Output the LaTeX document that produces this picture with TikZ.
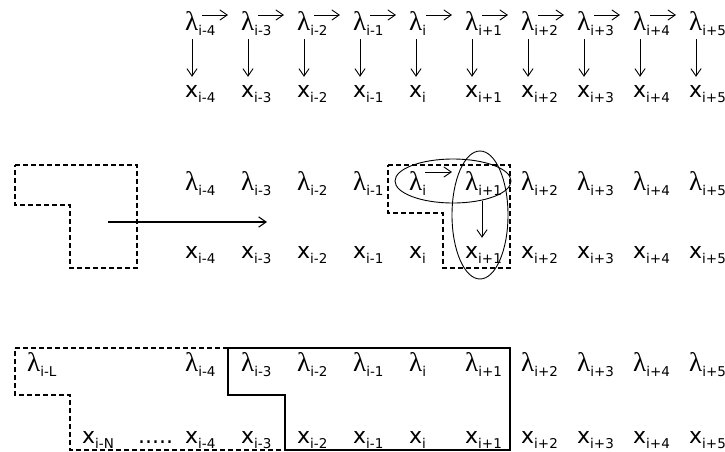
\documentclass[tikz,border=0pt]{standalone}
\usepackage{fontspec}
\setmainfont{DejaVu Sans}
\newfontfamily\lamfont{Liberation Serif}
\usetikzlibrary{arrows.meta,calc}
\newcommand\subs[1]{\raisebox{-0.42ex}{\fontsize{13.5}{13.5}\selectfont #1}}
\newcommand\lamv[1]{{\lamfont\fontsize{27}{27}\selectfont λ}\subs{#1}}
\newcommand\xv[1]{x\subs{#1}}
\tikzset{
  var/.style={anchor=base west,inner sep=0pt,font=\fontsize{22}{22}\selectfont},
  edge/.style={-{Straight Barb[length=2.6mm,width=3.6mm]},line width=0.9pt},
  win/.style={draw,dash pattern=on 5pt off 3pt,line width=1.4pt},
  blk/.style={draw,line width=1.5pt},
  ring/.style={draw,line width=0.9pt}
}
\begin{document}
\begin{tikzpicture}[x=1pt,y=-1pt]
\useasboundingbox (0,0) rectangle (725,451);
% variable rows
\foreach \s [count=\k from 0] in {i-4,i-3,i-2,i-1,i,i+1,i+2,i+3,i+4,i+5}{
  \node[var] (lt\k) at (185+56*\k,30) {\lamv{\s}};
  \node[var] (xt\k) at (185+56*\k,97) {\xv{\s}};
  \node[var] (lm\k) at (185+56*\k,190) {\lamv{\s}};
  \node[var] (xm\k) at (185+56*\k,258) {\xv{\s}};
  \node[var] (lb\k) at (185+56*\k,371) {\lamv{\s}};
  \node[var] (xb\k) at (185+56*\k,443) {\xv{\s}};
}
\node[var] (lbL) at (27,371) {\lamv{i-L}};
\node[var] (xbN) at (82,443) {\xv{i-N}};
\node[var] (dots) at (138,443) {.....};
% top chain
\foreach \k in {0,...,9}
  \draw[edge] ($(lt\k.south west)+(7,4)$) -- ($(xt\k.north west)+(7,-8)$);
\foreach \k [evaluate=\k as \n using int(\k+1)] in {0,...,8}
  \draw[edge] ($(lt\k.base west)+(17,-15)$) -- ($(lt\n.base west)+(-13,-15)$);
% sliding window
\path[win] (15,165) -- (137,165) -- (137,268) -- (70,268) -- (70,205) -- (15,205) -- cycle;
\coordinate (mvA) at (108,222);
\coordinate (mvB) at (267,222);
\draw[edge,line width=1.1pt] (mvA) -- (mvB);
\path[win] (388,165) -- (510,165) -- (510,268) -- (443,268) -- (443,213) -- (388,213) -- cycle;
\draw[ring] (453,181) ellipse [x radius=58,y radius=22];
\draw[ring] (480,215) ellipse [x radius=28,y radius=64];
\draw[edge] ($(lm4.base west)+(16,-18)$) -- ($(lm5.base west)+(-13,-18)$);
\draw[edge] ($(lm5.south west)+(17,6)$) -- ($(xm5.north west)+(17,-8)$);
% history and current blocks
\path[win] (15,348) -- (228,348) -- (228,395) -- (285,395) -- (285,450) -- (70,450) -- (70,395) -- (15,395) -- cycle;
\path[blk] (228,348) -- (510,348) -- (510,450) -- (285,450) -- (285,395) -- (228,395) -- cycle;
\end{tikzpicture}
\end{document}
